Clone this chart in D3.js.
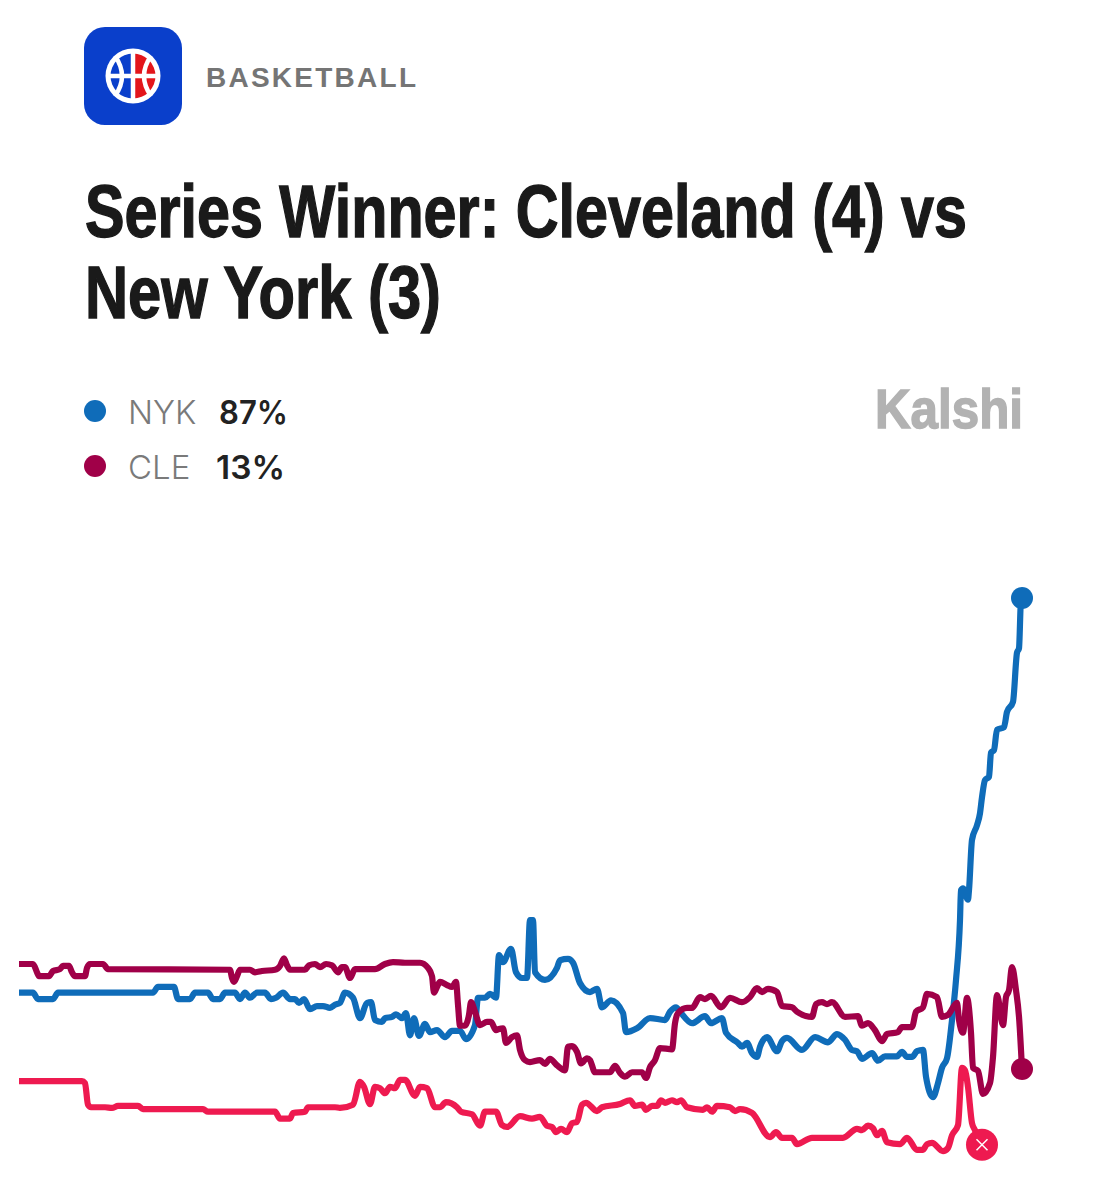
<!DOCTYPE html>
<html>
<head>
<meta charset="utf-8">
<script src="https://cdn.jsdelivr.net/npm/d3@7"></script>
<style>
    html, body { margin: 0; padding: 0; background: #fff; }
    svg { display: block; }
</style>
</head>
<body>
<script>
// chances in percent; t is the position along the time axis
const nyk_t = [0,14,19,34,39,134,139,155,159,171,176,189,194,201,206,216,221,226,231,238,246,252,257,264,271,276,280,285,291,298,304,311,316,321,326,334,341,348,352,356,363,366,373,377,383,387,391,395,400,406,411,418,426,433,441,447,456,459,466,471,477,480,484,492,497,503,508,511,514,516,526,538,541,549,554,561,571,578,583,592,604,607,618,631,646,651,657,661,673,686,692,703,707,719,723,728,733,738,741,748,758,763,768,783,796,809,818,826,833,838,843,853,859,866,878,883,888,893,898,904,907,914,919,923,928,933,937,941,942,944,949,950,953,958,961,963,966,970,972,975,978,985,988,994,998,1000,1002,1003];
const nyk_values = [25,25,24,24,25,25,25.9,25.9,24,24,25,25,24,24,25,25,24,25,24.2,25,25,24,24.2,25,24,24,23.4,24,22.4,22.9,22.9,22.6,23.1,23.4,25,24.2,21,23.4,23.5,20.7,20.4,21,21.2,21.6,21,21.8,18.3,21,18.2,20.1,18.8,19.1,18,19,19,17.7,19.9,24.2,24.2,24.8,24.2,30.9,29.8,31.9,28.2,27.3,27.3,36.4,36.4,28.2,27,28.9,30.1,30.3,29.7,26.5,25.1,25.6,22.7,23.8,21.8,18.8,19.4,21,20.7,22,22.7,22,20.2,21.3,20.2,21,18.7,17.1,16.5,17.1,15.5,14.9,16.5,18,15.8,17.4,17.9,16,18,17.2,18.5,17.6,16,15.8,14.6,15.5,14.3,15,15,15.7,14.9,14.9,15.8,16,11.8,8.6,10.8,13.2,14.7,20.7,27,36.4,41.1,41.4,39.6,41.1,49,51.3,53.2,55.7,58.4,58.9,62.7,63.1,66.3,66.7,69.1,70.7,78.4,79.1,86.7,87];

const cle_t = [0,14,18,20,30,34,41,44,50,53,56,66,68,71,84,89,211,213,215,218,221,231,236,243,256,261,265,268,271,286,290,296,301,307,313,319,323,326,331,336,356,366,374,386,401,409,413,415,418,421,428,433,437,439,441,446,450,452,456,461,468,472,477,480,484,487,493,498,501,506,511,521,526,531,538,546,549,553,558,562,568,571,576,591,596,601,606,613,623,627,631,636,641,653,656,659,668,673,681,686,692,702,711,723,731,738,743,749,758,763,773,778,793,797,803,808,813,826,839,843,849,856,863,868,879,883,893,897,904,908,918,923,929,938,940,944,948,952,954,959,964,971,974,978,984,987,990,993,997,1000,1003];
const cle_values = [29.5,29.5,28.2,27.6,27.6,28.4,28.7,29.2,29.2,28.2,27.6,27.6,28.9,29.5,29.5,28.7,28.6,27.3,26.7,27.6,28.6,28.6,28.2,28.4,28.6,29.2,30.4,29.3,28.6,28.6,29.3,29.5,29,29.5,29.3,28.2,29,29,27.3,28.7,28.7,29.5,29.8,29.7,29.7,28.9,27.6,25,25.9,26.7,26.2,25.9,26.7,23.1,19.8,19.8,21.5,23.5,22,19.9,20.4,20.4,19.1,19.3,19.4,17.1,18,18.3,16,14.4,14.1,14.4,13.8,14.6,13.6,12.8,16.5,16.6,15.7,13.9,14.7,14.4,12.5,12.5,13.5,12.4,11.8,12.5,12.5,11.6,13.3,14.4,16.3,16.1,20.2,21.8,22.6,22.6,24.3,24,24.5,22.7,24.2,23.5,24.3,25.7,25.1,25.6,25.1,22.9,22.7,22,21.2,23.2,23.5,23.2,23.5,21.2,21.3,19.8,20.2,19.1,17.4,18.5,18.8,19.6,19.6,22,22.7,24.8,24.3,21.2,21.5,23.4,20.7,18.7,24.2,18.7,13.2,12.7,9.1,10.8,14.9,24.6,19.9,24.3,25.4,29,25.4,21.2,13];

// third market, has no row in the legend, closes with the x marker
const out_t = [0,63,66,69,72,86,93,99,119,124,184,189,256,261,271,274,286,289,316,321,334,341,345,351,356,361,366,371,376,381,386,396,401,408,416,421,427,438,442,453,461,466,477,483,488,501,513,521,528,533,537,542,548,553,558,563,567,578,583,601,611,616,623,627,633,638,642,646,653,658,662,668,684,688,693,698,711,716,721,733,751,757,763,773,778,793,799,824,838,843,849,854,858,863,868,881,888,898,904,908,913,924,929,933,939,943,946,949,953,956,963];
const out_values = [11.1,11.1,10.8,7.4,7,7,6.9,7.2,7.2,6.7,6.7,6.3,6.3,5.2,5.2,6.1,6.3,7,7,6.9,7.4,11,10.2,7.5,10.2,10,9.2,10.2,10,11.3,11.3,8.8,10.2,10,7,7,7.8,7,6.3,5.9,4.1,6.3,6.3,4.2,3.9,5.6,5.2,5.5,4.1,3.9,3.1,3.6,3.1,4.5,4.7,7.4,7.7,6.4,7,7.5,8.1,7.2,7.4,6.6,7.2,7.2,8.1,7.7,8.1,7.8,8.1,7,6.6,7,6.3,7.2,7,6.4,6.7,6.1,2.3,3.1,2.2,2.2,1.2,2.2,2.2,2.2,3.6,3.4,4.1,3.7,2.6,3.3,1.5,1.2,2.2,0.3,0.3,1.2,1.4,0.1,0.6,2.6,4.2,13.2,12.8,10.2,4.5,3.4,1.1];

const legend_names = ["NYK", "CLE"];
const legend_values = ["87%", "13%"];

const width = 1107, height = 1200;
const blue = "#0f6cb9", crimson = "#a00048", red = "#ee1a50";

let svg = d3.select("body").append("svg")
    .attr("width", width)
    .attr("height", height)
    .attr("viewBox", "0 0 " + width + " " + height);

let x = d3.scaleLinear().domain([0, 1003]).range([19, 1022]);
let y = d3.scaleLinear().domain([0, 87]).range([1151.8, 598]);

/* ------- HEADER -------*/
let icon = svg.append("g").attr("class", "icon");
icon.append("rect")
    .attr("x", 84).attr("y", 27)
    .attr("width", 98).attr("height", 98)
    .attr("rx", 21)
    .attr("fill", "#0a3fcb");

let ball = icon.append("g").attr("transform", "translate(133,76)");
ball.append("circle").attr("r", 27.5).attr("fill", "#fff");
let half = d3.arc().innerRadius(0).outerRadius(22.5);
ball.append("path")
    .attr("d", half({startAngle: 0, endAngle: Math.PI}))
    .attr("fill", "#e3161b");
ball.append("path")
    .attr("d", half({startAngle: Math.PI, endAngle: Math.PI * 2}))
    .attr("fill", "#0a3fcb");
// seams of the ball
const seams = ["M0,-26V26", "M-26,0H26", "M-18,-20Q-4,0 -18,20", "M18,-20Q4,0 18,20"];
ball.selectAll("path.seam")
    .data(seams)
    .enter()
    .append("path")
    .attr("class", "seam")
    .attr("d", function(d) { return d; })
    .attr("fill", "none")
    .attr("stroke", "#fff")
    .attr("stroke-width", 4.5);

svg.append("text")
    .attr("x", 206).attr("y", 87)
    .attr("textLength", 210)
    .attr("lengthAdjust", "spacing")
    .style("font", "700 28px 'Liberation Sans', sans-serif")
    .attr("fill", "#757575")
    .text("BASKETBALL");

const title_font = "700 74px 'Liberation Sans Narrow', 'Liberation Sans', sans-serif";
svg.append("text")
    .attr("x", 85).attr("y", 237)
    .attr("textLength", 882)
    .attr("lengthAdjust", "spacingAndGlyphs")
    .style("font", title_font)
    .attr("fill", "#1a1a1a")
    .attr("stroke", "#1a1a1a")
    .attr("stroke-width", 1.4)
    .text("Series Winner: Cleveland (4) vs");
svg.append("text")
    .attr("x", 85).attr("y", 318)
    .attr("textLength", 356)
    .attr("lengthAdjust", "spacingAndGlyphs")
    .style("font", title_font)
    .attr("fill", "#1a1a1a")
    .attr("stroke", "#1a1a1a")
    .attr("stroke-width", 1.4)
    .text("New York (3)");

/* ------- LEGEND -------*/
const legend_colors = [blue, crimson];
const legend_y = [411, 466];
const value_x = [219, 216];
legend_names.forEach(function(name, i) {
    svg.append("circle")
        .attr("cx", 95).attr("cy", legend_y[i])
        .attr("r", 11)
        .attr("fill", legend_colors[i]);
    svg.append("text")
        .attr("x", 128).attr("y", legend_y[i] + 13)
        .style("font", "300 33px Inter, sans-serif")
        .attr("fill", "#7a7a7a")
        .text(name);
    svg.append("text")
        .attr("x", value_x[i]).attr("y", legend_y[i] + 13)
        .attr("textLength", 69)
        .attr("lengthAdjust", "spacingAndGlyphs")
        .style("font", "600 33px Inter, sans-serif")
        .attr("fill", "#222")
        .text(legend_values[i]);
});

svg.append("text")
    .attr("x", 875).attr("y", 428)
    .attr("textLength", 148)
    .attr("lengthAdjust", "spacingAndGlyphs")
    .style("font", "700 56px 'Liberation Sans', sans-serif")
    .attr("fill", "#b2b2b2")
    .attr("stroke", "#b2b2b2")
    .attr("stroke-width", 1.5)
    .text("Kalshi");

/* ------- LINES -------*/
let line = d3.line()
    .x(function(d) { return x(d[0]); })
    .y(function(d) { return y(d[1]); })
    .curve(d3.curveMonotoneX);

const series = [
    {t: out_t, values: out_values, color: red},
    {t: nyk_t, values: nyk_values, color: blue},
    {t: cle_t, values: cle_values, color: crimson}
];

svg.selectAll("path.series")
    .data(series)
    .enter()
    .append("path")
    .attr("class", "series")
    .attr("d", function(d) { return line(d3.zip(d.t, d.values)); })
    .attr("fill", "none")
    .attr("stroke", function(d) { return d.color; })
    .attr("stroke-width", 6.2)
    .attr("stroke-linejoin", "round");

/* ------- END MARKERS -------*/
svg.append("circle")
    .attr("cx", x(nyk_t[nyk_t.length - 1])).attr("cy", y(nyk_values[nyk_values.length - 1]))
    .attr("r", 11)
    .attr("fill", blue);
svg.append("circle")
    .attr("cx", x(cle_t[cle_t.length - 1])).attr("cy", y(cle_values[cle_values.length - 1]))
    .attr("r", 11)
    .attr("fill", crimson);

let closed = svg.append("g")
    .attr("transform", "translate(" + x(out_t[out_t.length - 1]) + "," + y(out_values[out_values.length - 1]) + ")");
closed.append("circle").attr("r", 16).attr("fill", red);
closed.append("path")
    .attr("d", "M-5.5,-5.5L5.5,5.5M5.5,-5.5L-5.5,5.5")
    .attr("stroke", "#fff")
    .attr("stroke-width", 1.5)
    .attr("fill", "none");
</script>
</body>
</html>
